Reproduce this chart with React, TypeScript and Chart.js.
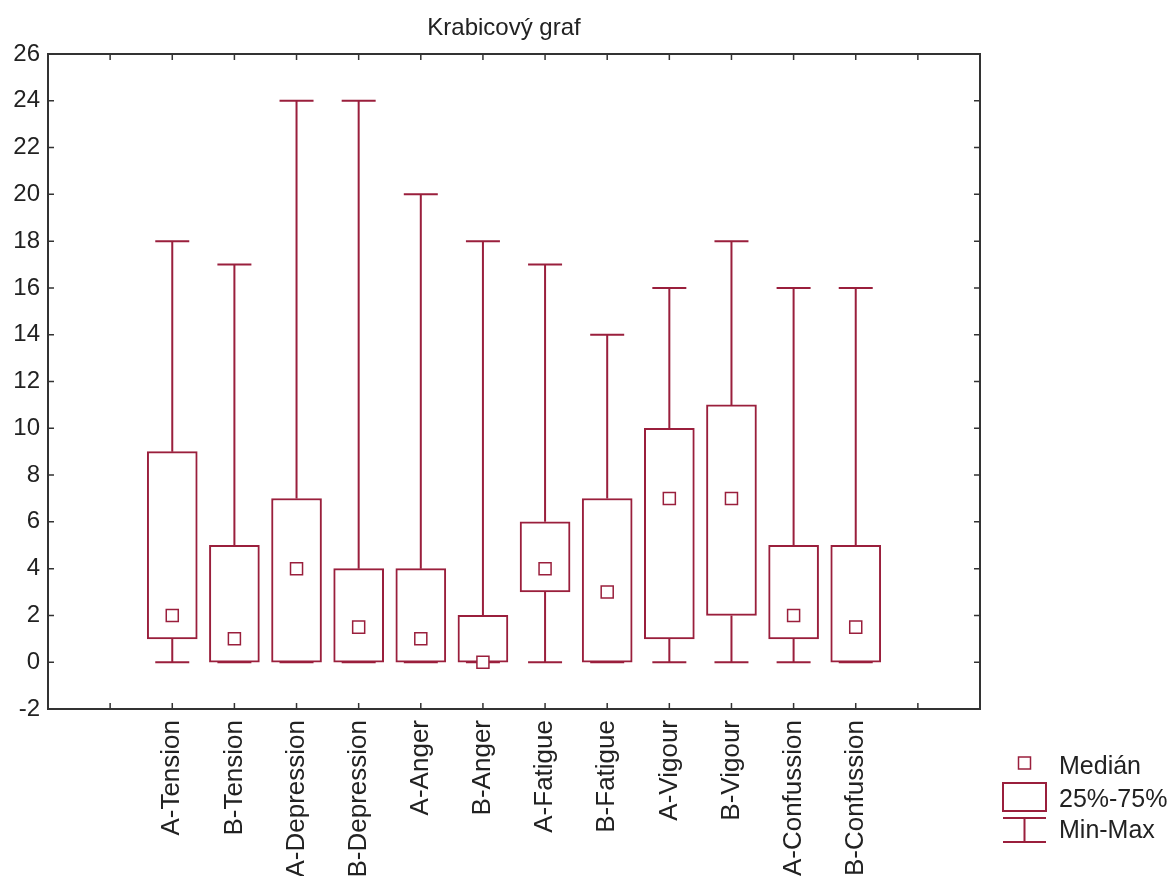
import React, { useEffect, useRef } from 'react';
import { Chart, registerables } from 'chart.js';

Chart.register(...registerables);

const categories = [
  'A-Tension', 'B-Tension', 'A-Depression', 'B-Depression', 'A-Anger', 'B-Anger',
  'A-Fatigue', 'B-Fatigue', 'A-Vigour', 'B-Vigour', 'A-Confussion', 'B-Confussion',
];
const minValues = [0, 0, 0, 0, 0, 0, 0, 0, 0, 0, 0, 0];
const q1Values = [1, 0, 0, 0, 0, 0, 3, 0, 1, 2, 1, 0];
const medianValues = [2, 1, 4, 1.5, 1, 0, 4, 3, 7, 7, 2, 1.5];
const q3Values = [9, 5, 7, 4, 4, 2, 6, 7, 10, 11, 5, 5];
const maxValues = [18, 17, 24, 24, 20, 18, 17, 14, 16, 18, 16, 16];
const yTicks = [-2, 0, 2, 4, 6, 8, 10, 12, 14, 16, 18, 20, 22, 24, 26];
const titleText = 'Krabicový graf';
const legendLabels = ['Medián', '25%-75%', 'Min-Max'];

const RED = '#9a1f3c';
const AXIS = '#333333';
const TEXT = '#222222';
const FONT = '"Liberation Sans", Arial, sans-serif';

const decorPlugin = {
  id: 'decor',
  beforeDatasetsDraw(chart: any) {
    const ctx = chart.ctx;
    const xs = chart.scales.x;
    const ys = chart.scales.y;
    ctx.save();
    ctx.strokeStyle = RED;
    ctx.lineWidth = 2;
    const capHalf = 17;
    categories.forEach((_, i) => {
      const x = xs.getPixelForValue(i + 1);
      const yMin = ys.getPixelForValue(minValues[i]);
      const yQ1 = ys.getPixelForValue(q1Values[i]);
      const yQ3 = ys.getPixelForValue(q3Values[i]);
      const yMax = ys.getPixelForValue(maxValues[i]);
      ctx.beginPath();
      ctx.moveTo(x, yQ3);
      ctx.lineTo(x, yMax);
      ctx.moveTo(x - capHalf, yMax);
      ctx.lineTo(x + capHalf, yMax);
      ctx.moveTo(x, yQ1);
      ctx.lineTo(x, yMin);
      ctx.moveTo(x - capHalf, yMin);
      ctx.lineTo(x + capHalf, yMin);
      ctx.stroke();
    });
    ctx.restore();
  },
  afterDraw(chart: any) {
    const ctx = chart.ctx;
    const area = chart.chartArea;
    const xs = chart.scales.x;
    const ys = chart.scales.y;
    ctx.save();
    // frame
    ctx.strokeStyle = AXIS;
    ctx.lineWidth = 2;
    ctx.strokeRect(area.left, area.top, area.right - area.left, area.bottom - area.top);
    // inside ticks
    ctx.lineWidth = 1.5;
    ctx.beginPath();
    for (let v = 0; v <= 13; v++) {
      const x = xs.getPixelForValue(v);
      ctx.moveTo(x, area.bottom);
      ctx.lineTo(x, area.bottom - 6);
      ctx.moveTo(x, area.top);
      ctx.lineTo(x, area.top + 6);
    }
    yTicks.forEach((v) => {
      const y = ys.getPixelForValue(v);
      ctx.moveTo(area.left, y);
      ctx.lineTo(area.left + 6, y);
      ctx.moveTo(area.right, y);
      ctx.lineTo(area.right - 6, y);
    });
    ctx.stroke();

    // title
    ctx.fillStyle = TEXT;
    ctx.font = `24px ${FONT}`;
    ctx.textAlign = 'center';
    ctx.textBaseline = 'middle';
    ctx.fillText(titleText, 504, 28);

    // legend
    const lx = 1003;
    const lw = 43;
    ctx.strokeStyle = RED;
    ctx.fillStyle = '#ffffff';
    ctx.beginPath();
    ctx.rect(lx + lw / 2 - 6, 757, 12, 12);
    ctx.fill();
    ctx.lineWidth = 1.5;
    ctx.stroke();
    ctx.lineWidth = 2;
    ctx.strokeRect(lx, 783, lw, 28);
    ctx.beginPath();
    ctx.moveTo(lx, 818);
    ctx.lineTo(lx + lw, 818);
    ctx.moveTo(lx + lw / 2, 818);
    ctx.lineTo(lx + lw / 2, 842);
    ctx.moveTo(lx, 842);
    ctx.lineTo(lx + lw, 842);
    ctx.stroke();

    ctx.fillStyle = TEXT;
    ctx.font = `25px ${FONT}`;
    ctx.textAlign = 'left';
    ctx.textBaseline = 'middle';
    ctx.fillText(legendLabels[0], 1059, 767);
    ctx.fillText(legendLabels[1], 1059, 800);
    ctx.fillText(legendLabels[2], 1059, 831);
    ctx.restore();
  },
};

export default function App() {
  const canvasRef = useRef<HTMLCanvasElement | null>(null);

  useEffect(() => {
    document.body.style.margin = '0';
    const canvas = canvasRef.current;
    if (!canvas) return;
    const boxData = categories.map((_, i) => ({ x: i + 1, y: [q1Values[i], q3Values[i]] }));
    const medianData = categories.map((_, i) => ({ x: i + 1, y: medianValues[i] }));
    const chart = new Chart(canvas, {
      type: 'bar',
      data: {
        datasets: [
          {
            type: 'scatter',
            label: 'Medián',
            data: medianData as any,
            pointStyle: 'rect',
            pointRadius: 8.5,
            pointBorderWidth: 1.5,
            pointBackgroundColor: '#ffffff',
            pointBorderColor: RED,
            order: 0,
          } as any,
          {
            type: 'bar',
            label: '25%-75%',
            data: boxData as any,
            barThickness: 50,
            backgroundColor: '#ffffff',
            borderColor: RED,
            borderWidth: 2,
            borderSkipped: false,
            order: 1,
          } as any,
        ],
      },
      options: {
        responsive: false,
        animation: false,
        events: [],
        layout: { padding: { top: 54, right: 194, left: 0, bottom: 0 } },
        plugins: {
          legend: { display: false },
          title: { display: false },
          tooltip: { enabled: false },
        },
        scales: {
          x: {
            type: 'linear',
            offset: false,
            min: -1,
            max: 14,
            grid: { display: false, drawTicks: false, offset: false },
            border: { display: false },
            afterFit: (scale: any) => { scale.height = 167; },
            ticks: {
              stepSize: 1,
              autoSkip: false,
              maxRotation: 90,
              minRotation: 90,
              padding: 11,
              color: TEXT,
              font: { size: 26, family: FONT },
              callback: (v: any) => {
                const n = Number(v);
                return Number.isInteger(n) && n >= 1 && n <= categories.length ? categories[n - 1] : '';
              },
            },
          },
          y: {
            type: 'linear',
            min: -2,
            max: 26,
            grid: { display: false, drawTicks: false },
            border: { display: false },
            afterFit: (scale: any) => { scale.width = 48; },
            ticks: {
              stepSize: 2,
              padding: 8,
              color: TEXT,
              font: { size: 24, family: FONT },
            },
          },
        },
      },
      plugins: [decorPlugin],
    } as any);
    return () => chart.destroy();
  }, []);

  return (
    <div style={{ width: 1174, height: 876 }}>
      <canvas ref={canvasRef} width={1174} height={876} style={{ display: 'block' }} />
    </div>
  );
}
